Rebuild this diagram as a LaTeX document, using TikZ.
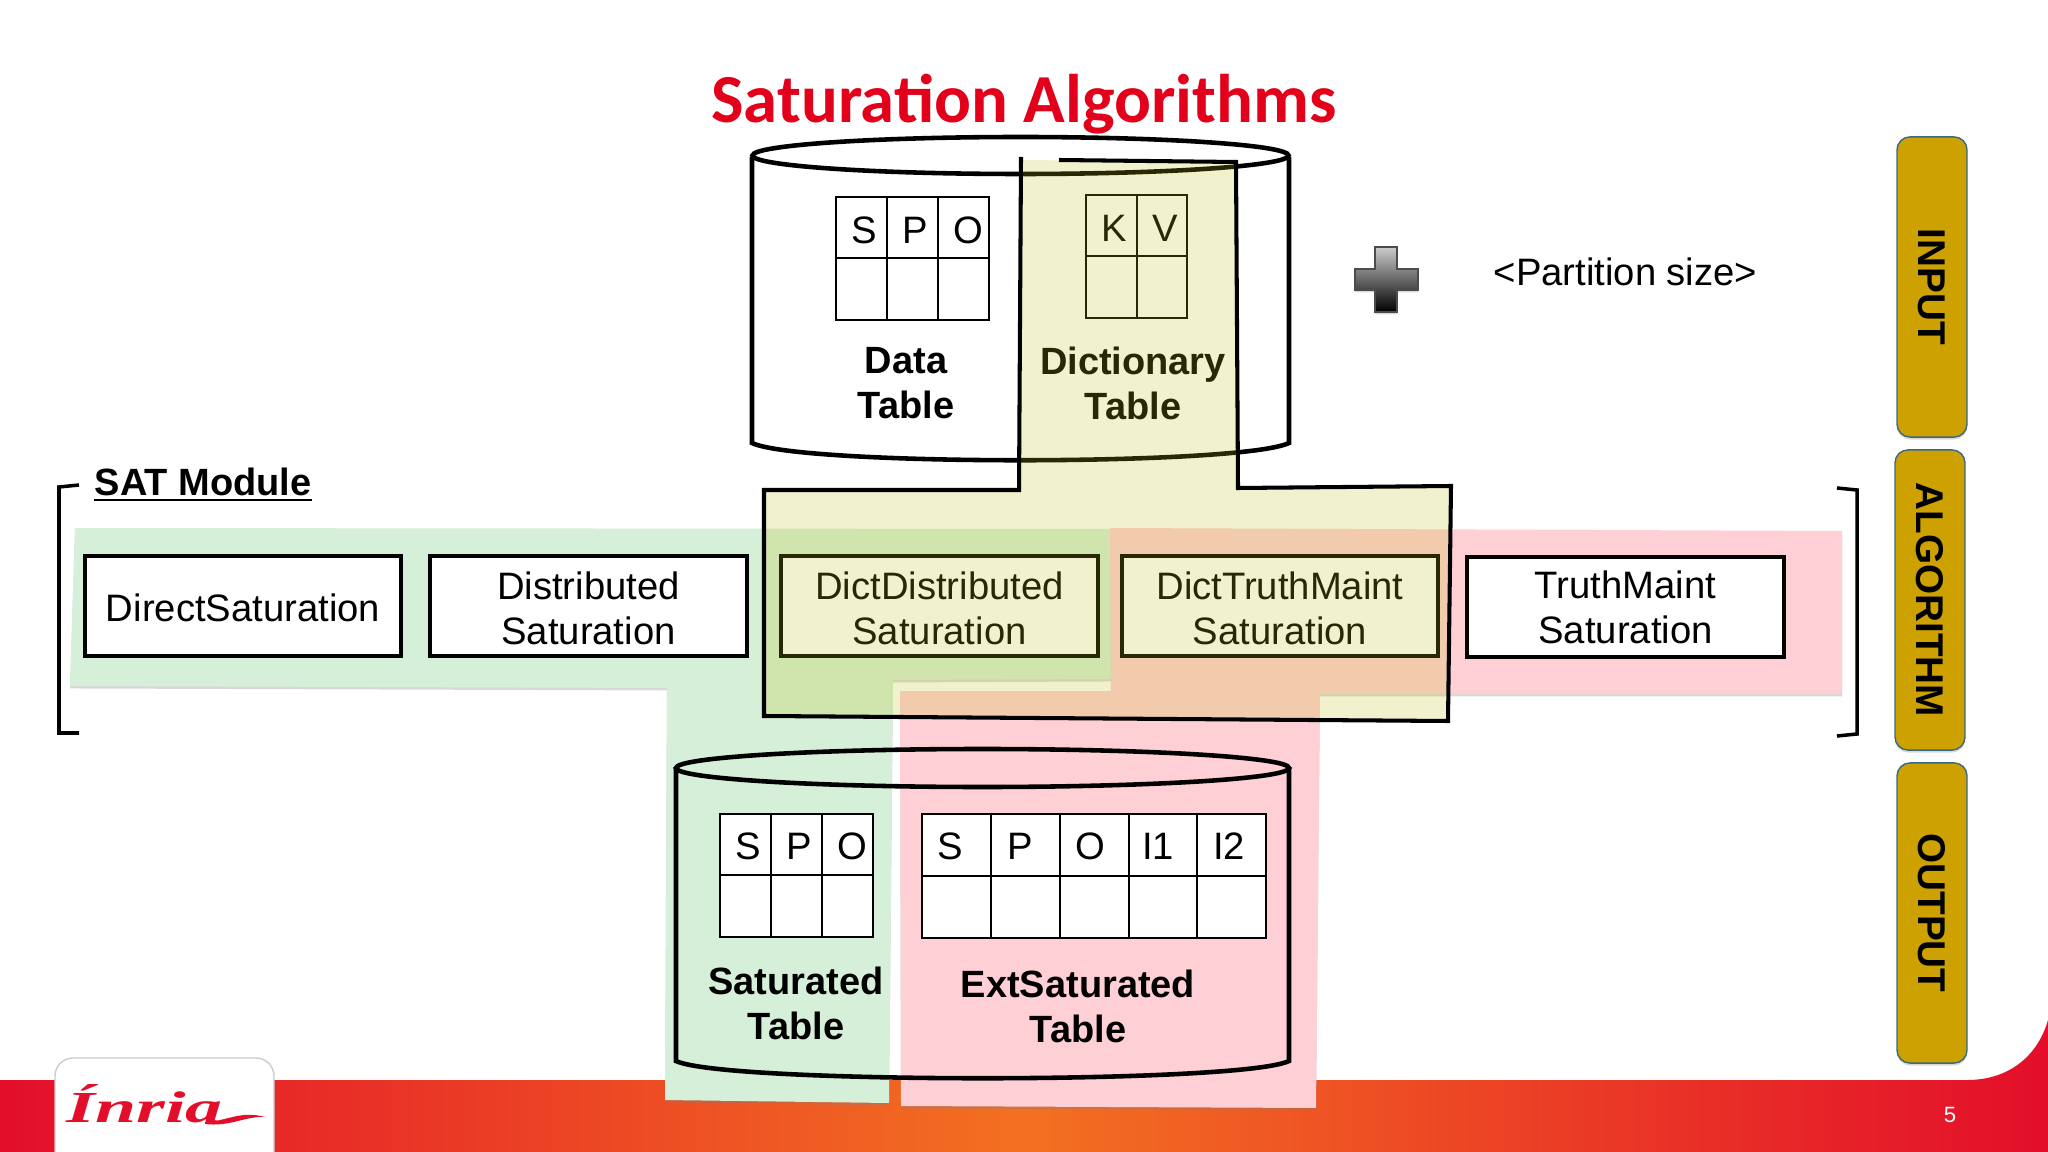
\documentclass[tikz,border=0pt]{standalone}
\usepackage{fontspec}
\setmainfont{Liberation Sans}
\newfontfamily\titlefont{Carlito}
\newfontfamily\logofont{Liberation Serif}
\usetikzlibrary{shadows}
\definecolor{inriared}{HTML}{E30E2A}
\definecolor{inriaorange}{HTML}{F37021}
\definecolor{titlered}{HTML}{E2001A}
\definecolor{satgreen}{HTML}{D5EFD8}
\definecolor{extpink}{HTML}{FFCFD6}
\definecolor{dictolive}{RGB}{190,190,20}
\definecolor{tabgold}{HTML}{CDA100}
\definecolor{tabedge}{HTML}{3A6A80}
\newcommand{\thickline}{1.15pt}
\newcommand{\gridline}{.7pt}
\newcommand{\lowerline}{\rule{0pt}{9pt}}
\tikzset{
	softshadow/.style={drop shadow={shadow xshift=0pt,shadow yshift=-.7pt,opacity=.3}},
	plaintext/.style={inner sep=0pt,align=center,font=\fontsize{10.87}{12.8}\selectfont},
	boldtext/.style={plaintext,font=\fontsize{10.8}{12.8}\selectfont\bfseries},
	algobox/.style={plaintext,draw=black,fill=white,line width=\thickline,minimum width=3.16cm,minimum height=1cm},
	cellhead/.style={plaintext,anchor=base},
	sidetab/.style={boldtext,font=\fontsize{11}{13}\selectfont\bfseries,draw=tabedge,fill=tabgold,line width=.4pt,rounded corners=.13cm,rotate=-90,minimum width=3cm,minimum height=.7cm},
	drum/.style={line width=1.3pt},
	celllines/.style={draw=black,fill=white,line width=\gridline}
}

\begin{document}
\begin{tikzpicture}[x=.01cm,y=-.01cm]
	\useasboundingbox (0,0) rectangle (2048,1152);
	\fill[white] (0,0) rectangle (2048,1152);
	%Draw the footer band and the logo card
	\shade[left color=inriared,right color=inriared,middle color=inriaorange] (0,1080) -- (1967,1080) .. controls (2010,1080) and (2038,1055) .. (2048,1020) -- (2048,1152) -- (0,1152) -- cycle;
	\fill[white,draw=black!20,line width=.4pt,rounded corners=.18cm,softshadow] (55,1170) -- (55,1058) -- (274,1058) -- (274,1170);
	\node[anchor=base west,inner sep=0pt,text=inriared] (logo) at (66,1122) {\scalebox{1.75}[1.05]{\fontsize{12}{12}\logofont\itshape\bfseries Ínria}};
	\fill[inriared] (205,1122) .. controls (225,1122) and (240,1110) .. (265,1117) .. controls (245,1116) and (230,1127) .. (205,1124) -- cycle;
	\node[anchor=base,inner sep=0pt,text=white,font=\fontsize{6.3}{7}\selectfont] (pagenum) at (1950,1122) {5};
	%The title
	\node[anchor=base,inner sep=0pt,text=titlered,font=\fontsize{19.55}{22}\titlefont\bfseries] (title) at (1024,123) {Saturation Algorithms};
	%Draw the coloured regions behind the boxes
	\fill[satgreen,softshadow] (75,528) -- (1111,529) -- (1111,679) -- (893,680) -- (889,1103) -- (665,1100) -- (667,688) -- (70,686) -- cycle;
	\fill[extpink,softshadow] (1110,528) -- (1842,531) -- (1842,694) -- (1320,694) -- (1316,1108) -- (901,1106) -- (900,691) -- (1111,691) -- cycle;
	%Draw the algorithm boxes
	\node[algobox] (direct) at (243,606) {\rule{0pt}{9.2pt}DirectSaturation};
	\node[algobox] (distributed) at (588.5,606) {\lowerline Distributed\\Saturation};
	\node[algobox] (dictdistributed) at (939.5,606) {\lowerline DictDistributed\\Saturation};
	\node[algobox] (dicttruth) at (1280,606) {\lowerline DictTruthMaint\\Saturation};
	\node[algobox] (truth) at (1625.5,607) {TruthMaint\\Saturation};
	%Draw the brackets of the module
	\begin{scope}[line width=1pt]
		\draw (79,485) -- (59,487) -- (59,733) -- (79,733);
		\draw (1837,488) -- (1857,490) -- (1857,734) -- (1837,736);
	\end{scope}
	\node[boldtext,anchor=base west] (satmodule) at (94,495) {SAT Module};
	\draw[line width=.7pt] ([yshift=-1.4pt]satmodule.base west) -- ([yshift=-1.4pt]satmodule.base east);
	%The input cylinder
	\begin{scope}[drum]
		\draw (752,157) -- (752,443) .. controls (800,466) and (1240,466) .. (1289,443) -- (1289,157);
		\draw (1020.5,155.5) ellipse [x radius=268,y radius=18.5];
	\end{scope}
	%The output cylinder
	\begin{scope}[drum]
		\draw (676,767) -- (676,1061) .. controls (724,1084) and (1241,1084) .. (1289,1061) -- (1289,767);
		\draw (982.5,768) ellipse [x radius=306.5,y radius=19];
	\end{scope}
	%Draw the tables of the input
	\draw[celllines] (836,197) rectangle (989,320);
	\draw[line width=\gridline] (836,258) -- (989,258) (887,197) -- (887,320) (938,197) -- (938,320);
	\foreach \x/\lab in {864/S,915/P,968/O}
		\node[cellhead] (data\lab) at (\x,244) {\lab};
	\draw[line width=\gridline] (1086,195) rectangle (1187,318) (1086,256) -- (1187,256) (1137,195) -- (1137,318);
	\foreach \x/\lab in {1114/K,1165/V}
		\node[cellhead] (dict\lab) at (\x,242) {\lab};
	\node[boldtext] (datatable) at (906,383.4) {Data\\Table};
	\node[boldtext] (dicttable) at (1133,383.4) {Dictionary\\Table};
	%Draw the tables of the output
	\draw[celllines] (720,814) rectangle (873,937);
	\draw[line width=\gridline] (720,875) -- (873,875) (771,814) -- (771,937) (822,814) -- (822,937);
	\foreach \x/\lab in {748/S,799/P,852/O}
		\node[cellhead] (sat\lab) at (\x,859.5) {\lab};
	\draw[celllines] (922,814) rectangle (1266,938);
	\draw[line width=\gridline] (922,876) -- (1266,876);
	\foreach \x in {991,1060,1129,1197}
		\draw[line width=\gridline] (\x,814) -- (\x,938);
	\foreach \x/\lab in {950/S,1020/P,1090/O,1158/I1,1229/I2}
		\node[cellhead] (ext\lab) at (\x,859.5) {\lab};
	\node[boldtext] (sattable) at (796,1003.4) {Saturated\\Table};
	\node[boldtext] (exttable) at (1078,1006) {ExtSaturated\\Table};
	%Draw the dictionary region over everything and its edge
	\fill[dictolive,opacity=.21] (1021,160) -- (1236,162) -- (1238,488) -- (1451,486) -- (1448,721) -- (764,716) -- (764,490) -- (1019,490) -- cycle;
	\draw[line width=\thickline,line join=miter] (1059,160) -- (1236,162) -- (1238,488) -- (1451,486) -- (1448,721) -- (764,716) -- (764,490) -- (1019,490) -- (1021,157);
	%The plus sign and the partition size
	\shade[top color=black!20,bottom color=black,draw=black!70,line width=.3pt,softshadow] (1375,247) -- (1397,247) -- (1397,269) -- (1418,269) -- (1418,290) -- (1397,290) -- (1397,312) -- (1375,312) -- (1375,290) -- (1355,290) -- (1355,269) -- (1375,269) -- cycle;
	\node[plaintext,anchor=base west] (partition) at (1493,286) {<Partition size>};
	%Draw the tabs on the right
	\node[sidetab,softshadow] (input) at (1932,287) {INPUT};
	\node[sidetab,softshadow] (algorithm) at (1930,600) {ALGORITHM};
	\node[sidetab,softshadow] (output) at (1932,913) {OUTPUT};
\end{tikzpicture}
\end{document}
